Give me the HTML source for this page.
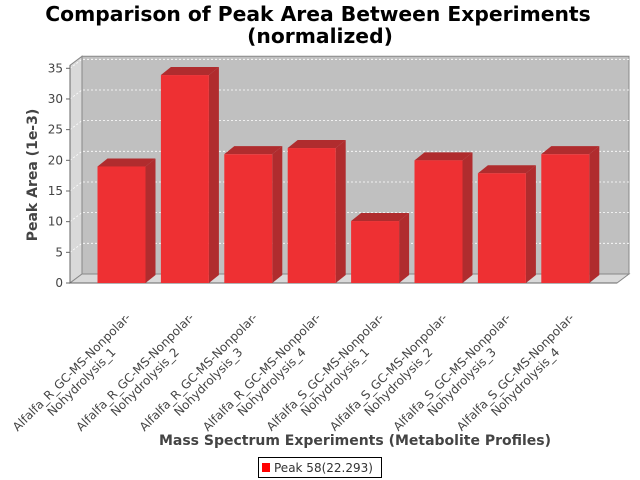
<!DOCTYPE html>
<html><head><meta charset="utf-8"><style>
html,body{margin:0;padding:0;background:#fff;}
svg{display:block;font-family:"DejaVu Sans","Liberation Sans",sans-serif;}
</style></head><body>
<svg id="chart" width="640" height="480" viewBox="0 0 640 480" xmlns="http://www.w3.org/2000/svg">
<text x="318" y="21" text-anchor="middle" font-size="20.3" font-weight="bold" fill="#000">Comparison of Peak Area Between Experiments</text>
<text x="320" y="43" text-anchor="middle" font-size="20.3" font-weight="bold" fill="#000">(normalized)</text>
<g id="plot"></g>
<text transform="translate(37,175) rotate(-90)" text-anchor="middle" font-size="14" font-weight="bold" fill="#444">Peak Area (1e-3)</text>
<text x="355" y="445" text-anchor="middle" font-size="14" font-weight="bold" fill="#444">Mass Spectrum Experiments (Metabolite Profiles)</text>
<g>
<rect x="258.5" y="457.5" width="123" height="20" fill="#fff" stroke="#000"/>
<rect x="262" y="463" width="8" height="9" fill="#ff0000"/>
<text x="274" y="472" font-size="12" fill="#333">Peak 58(22.293)</text>
</g>
</svg>
<script>
const categories=["Alfalfa_R_GC-MS-Nonpolar-|Nohydrolysis_1","Alfalfa_R_GC-MS-Nonpolar-|Nohydrolysis_2","Alfalfa_R_GC-MS-Nonpolar-|Nohydrolysis_3","Alfalfa_R_GC-MS-Nonpolar-|Nohydrolysis_4","Alfalfa_S_GC-MS-Nonpolar-|Nohydrolysis_1","Alfalfa_S_GC-MS-Nonpolar-|Nohydrolysis_2","Alfalfa_S_GC-MS-Nonpolar-|Nohydrolysis_3","Alfalfa_S_GC-MS-Nonpolar-|Nohydrolysis_4"];
const values=[19.0,33.9,21.0,22.0,10.1,20.0,17.9,21.0];
const yTicks=[0,5,10,15,20,25,30,35];
const NS="http://www.w3.org/2000/svg";
const g=document.getElementById('plot');
const X0=70,X1=617,Y0=283,DX=12,DY=9,YMAX=35,YTOP=68.3;
function y(v){return Y0-(v/YMAX)*(Y0-YTOP);}
function xc(i){return 121.5+i*63.4;}
function mk(tag,attrs,parent){const e=document.createElementNS(NS,tag);for(const k in attrs)e.setAttribute(k,attrs[k]);(parent||g).appendChild(e);return e;}
const yTop=y(YMAX)-3;
let w=mk('polygon',{points:`${X0+DX},${yTop-DY} ${X1+DX},${yTop-DY} ${X1+DX},${Y0-DY} ${X0+DX},${Y0-DY}`,fill:'#c0c0c0',stroke:'#888'});


w=mk('polygon',{points:`${X0},${yTop} ${X0+DX},${yTop-DY} ${X0+DX},${Y0-DY} ${X0},${Y0}`,fill:'#d9d9d9',stroke:'#888'});


w=mk('polygon',{points:`${X0},${Y0} ${X0+DX},${Y0-DY} ${X1+DX},${Y0-DY} ${X1},${Y0}`,fill:'#d9d9d9',stroke:'#888'});


yTicks.forEach(t=>{
 const yy=y(t);
 if(t>0){
 const l=mk('polyline',{points:`${X0},${yy} ${X0+DX},${yy-DY} ${X1+DX},${yy-DY}`,fill:'none',stroke:'#fff','stroke-width':'0.8','stroke-dasharray':'2,2'});
 
 }
 const tk=mk('line',{x1:X0-4,y1:yy,x2:X0,y2:yy,stroke:'#666'});
 
 
 const tx=mk('text',{x:X0-7,y:yy+4,'text-anchor':'end','font-size':'12',fill:'#444'});
 tx.textContent=t;
 
 
});
const ya=mk('line',{x1:X0,y1:Y0,x2:X0,y2:yTop,stroke:'#666'});


const xa=mk('line',{x1:X0,y1:Y0,x2:X1,y2:Y0,stroke:'#666'});


const BW=48,bx=10,by=8;
values.forEach((v,i)=>{
 const l=xc(i)-BW/2,r=l+BW,t=y(v);
 const bg=mk('g',{});
 
 
 mk('polygon',{points:`${r},${t} ${r+bx},${t-by} ${r+bx},${Y0-by} ${r},${Y0}`,fill:'#b02c2e'},bg);
 mk('polygon',{points:`${l},${t} ${l+bx},${t-by} ${r+bx},${t-by} ${r},${t}`,fill:'#b02c2e'},bg);
 mk('rect',{x:l,y:t,width:BW,height:Y0-t,fill:'#ee3033'},bg);
 const parts=categories[i].split('|');
 const lg=mk('g',{transform:`translate(${xc(i)-47},${Y0+92}) rotate(-45)`});
 
 
 parts.forEach((p,k)=>{const tt=mk('text',{x:0,y:k*14,'text-anchor':'middle','font-size':'12',fill:'#444'},lg);tt.textContent=p;});
});
</script>
</body></html>
